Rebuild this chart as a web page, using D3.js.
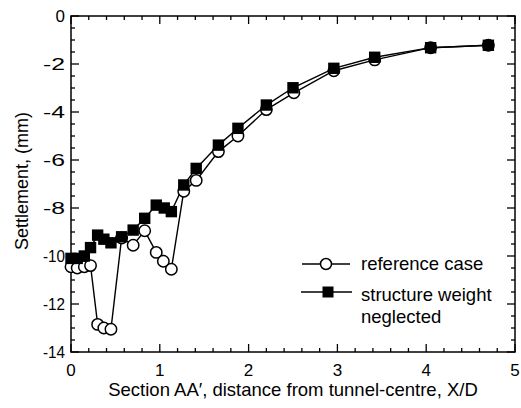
<!DOCTYPE html>
<html>
<head>
<meta charset="utf-8">
<script src="https://cdn.jsdelivr.net/npm/d3@7"></script>
<style>
  body { margin: 0; background: #fff; }
  svg { display: block; }
</style>
</head>
<body>
<svg id="chart" width="521" height="408"></svg>
<script>
// data
const refX = [0, 0.07, 0.15, 0.22, 0.30, 0.37, 0.45, 0.57, 0.70, 0.83, 0.96, 1.04, 1.13, 1.27, 1.41, 1.66, 1.88, 2.20, 2.51, 2.96, 3.42, 4.05, 4.70];
const refY = [-10.45, -10.5, -10.45, -10.4, -12.85, -13.0, -13.05, -9.25, -9.55, -8.95, -9.85, -10.22, -10.55, -7.3, -6.85, -5.65, -5.0, -3.9, -3.2, -2.28, -1.83, -1.32, -1.22];
const swnX = [0, 0.07, 0.15, 0.22, 0.30, 0.37, 0.45, 0.57, 0.70, 0.83, 0.96, 1.05, 1.13, 1.27, 1.41, 1.66, 1.88, 2.20, 2.50, 2.96, 3.42, 4.05, 4.70];
const swnY = [-10.1, -10.1, -10.0, -9.65, -9.13, -9.3, -9.45, -9.2, -8.92, -8.43, -7.88, -8.0, -8.15, -7.04, -6.35, -5.38, -4.68, -3.71, -2.99, -2.18, -1.72, -1.32, -1.22];
const xTicks = [0, 1, 2, 3, 4, 5];
const yTicks = [0, -2, -4, -6, -8, -10, -12, -14];
const legendLabels = ['reference case', 'structure weight', 'neglected'];

// small stand-in for d3-selection-multi's .attrs()
d3.selection.prototype.attrs = function (obj) {
  Object.keys(obj).forEach(k => this.attr(k, obj[k]));
  return this;
};

const svg = d3.select('#chart');
const font = "'Liberation Sans', Arial, sans-serif";

const m = { left: 71, right: 515, top: 16, bottom: 352 };
const x = d3.scaleLinear().domain([0, 5]).range([m.left, m.right]);
const y = d3.scaleLinear().domain([-14, 0]).range([m.bottom, m.top]);

/****************** frame + ticks ******************/
svg.append('rect')
  .attrs({ x: m.left, y: m.top, width: m.right - m.left, height: m.bottom - m.top, fill: 'none', stroke: '#000', 'stroke-width': 1.5 });

const xMinor = d3.range(0, 5.0001, 0.2);
const yMinor = d3.range(-14, 0.0001, 0.5);
const isMajor = (v, step) => Math.abs(v / step - Math.round(v / step)) < 1e-6;

xMinor.forEach(v => {
  const len = isMajor(v, 1) ? 8 : 4;
  svg.append('line').attrs({ x1: x(v), x2: x(v), y1: m.bottom, y2: m.bottom - len, stroke: '#000', 'stroke-width': 1.3 });
  svg.append('line').attrs({ x1: x(v), x2: x(v), y1: m.top, y2: m.top + len, stroke: '#000', 'stroke-width': 1.3 });
});
yMinor.forEach(v => {
  const len = isMajor(v, 2) ? 8 : 4;
  svg.append('line').attrs({ x1: m.left, x2: m.left + len, y1: y(v), y2: y(v), stroke: '#000', 'stroke-width': 1.3 });
  svg.append('line').attrs({ x1: m.right, x2: m.right - len, y1: y(v), y2: y(v), stroke: '#000', 'stroke-width': 1.3 });
});

xTicks.forEach(v => {
  svg.append('text').text(v).attrs({
    x: x(v), y: 376, 'text-anchor': 'middle', 'font-size': '17px', 'font-family': font, fill: '#000'
  });
});
yTicks.forEach(v => {
  svg.append('text').text(v === 0 ? '0' : '-' + Math.abs(v)).attrs({
    x: 65, y: y(v) + 6, 'text-anchor': 'end', 'font-size': '17px', 'font-family': font, fill: '#000',
    textLength: v === 0 ? null : 22, lengthAdjust: 'spacingAndGlyphs'
  });
});

svg.append('text').text('Settlement, (mm)').attrs({
  transform: 'translate(28,181) rotate(-90)',
  'text-anchor': 'middle', 'font-size': '18px', 'font-family': font, fill: '#000'
});
svg.append('text').text('Section AA\u2032, distance from tunnel-centre, X/D').attrs({
  x: 293, y: 396, 'text-anchor': 'middle', 'font-size': '18.5px', 'font-family': font, fill: '#000'
});

/****************** series ******************/
const line = d3.line().x(d => x(d[0])).y(d => y(d[1]));
const refPts = refX.map((v, i) => [v, refY[i]]);
const swnPts = swnX.map((v, i) => [v, swnY[i]]);

svg.append('path').datum(refPts).attrs({ d: line, fill: 'none', stroke: '#000', 'stroke-width': 1.4 });
svg.append('path').datum(swnPts).attrs({ d: line, fill: 'none', stroke: '#000', 'stroke-width': 1.4 });

svg.selectAll('circle.ref').data(refPts).enter().append('circle')
  .attrs({ class: 'ref', cx: d => x(d[0]), cy: d => y(d[1]), r: 5.7, fill: '#fff', stroke: '#000', 'stroke-width': 1.5 });
svg.selectAll('rect.swn').data(swnPts).enter().append('rect')
  .attrs({ class: 'swn', x: d => x(d[0]) - 5.7, y: d => y(d[1]) - 5.7, width: 11.4, height: 11.4, fill: '#000' });

/****************** legend ******************/
svg.append('line').attrs({ x1: 302, x2: 350, y1: 264, y2: 264, stroke: '#000', 'stroke-width': 1.4 });
svg.append('circle').attrs({ cx: 326, cy: 264, r: 5.5, fill: '#fff', stroke: '#000', 'stroke-width': 1.5 });
svg.append('line').attrs({ x1: 301, x2: 352, y1: 292, y2: 292, stroke: '#000', 'stroke-width': 1.4 });
svg.append('rect').attrs({ x: 322.5, y: 286.5, width: 11, height: 11, fill: '#000' });

[270, 301, 323].forEach((ty, i) => {
  svg.append('text').text(legendLabels[i]).attrs({
    x: 361, y: ty, 'text-anchor': 'start', 'font-size': '18.5px', 'font-family': font, fill: '#000'
  });
});
</script>
</body>
</html>
